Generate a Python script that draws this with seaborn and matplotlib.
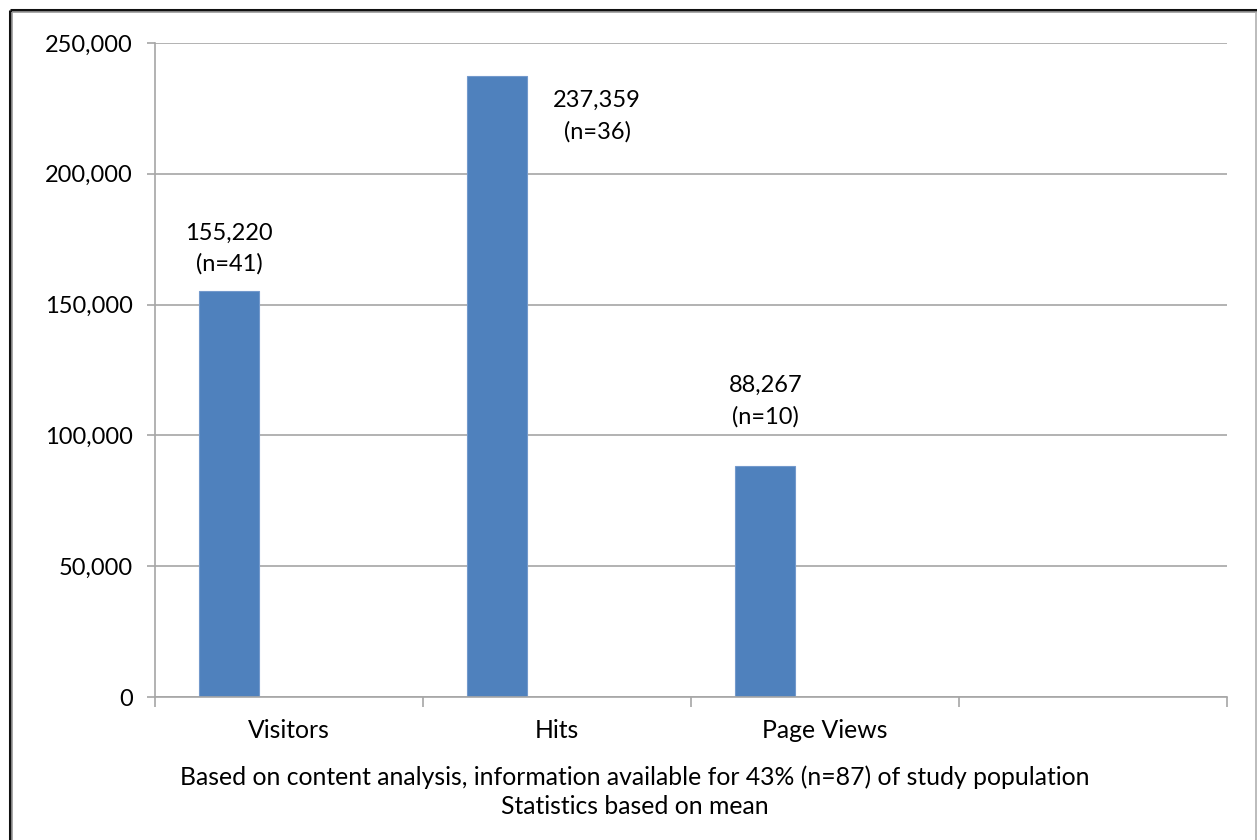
import matplotlib
matplotlib.use("Agg")
import matplotlib.pyplot as plt
from matplotlib.lines import Line2D
from matplotlib.ticker import FuncFormatter, FixedLocator
import numpy as np
import pandas as pd
import seaborn as sns

# Chart data
categories = ["Visitors", "Hits", "Page Views", ""]
values = [155220, 237359, 88267]
sample_sizes = [41, 36, 10]
caption_lines = [
    "Based on content analysis, information available for 43% (n=87) of study population",
    "Statistics based on mean",
]

sns.set_theme(style="white")
plt.rcParams["font.family"] = ["Lato", "DejaVu Sans"]

BAR_COLOR = "#4F81BD"
GRID_COLOR = "#A6A6A6"
TEXT_SIZE = 17.8
NUM_SIZE = 17

fig = plt.figure(figsize=(12.57, 8.40), dpi=100)
ax = fig.add_axes([155 / 1257, 1 - 697 / 840, (1227 - 155) / 1257, (697 - 43) / 840])

# Each bar sits in the left half of its category slot
bar_width = 0.223
positions = np.arange(len(values)) - bar_width
df = pd.DataFrame({"pos": positions, "value": values})
sns.barplot(data=df, x="pos", y="value", native_scale=True, width=bar_width,
            color=BAR_COLOR, saturation=1, edgecolor="#7399CC", linewidth=0.8,
            ax=ax, zorder=3)

ax.set_xlim(-0.5, len(categories) - 0.5)
ax.set_ylim(0, 250000)
ax.set_xlabel("")
ax.set_ylabel("")

# Y axis: gridlines every 50,000
ax.set_yticks(np.arange(0, 250001, 50000))
ax.yaxis.set_major_formatter(FuncFormatter(lambda v, _: f"{int(v):,}"))
ax.grid(axis="y", color=GRID_COLOR, linewidth=1.2, zorder=0)
ax.tick_params(axis="y", which="major", left=True, length=6, width=1.2,
               color=GRID_COLOR, labelsize=NUM_SIZE, pad=10, labelcolor="black")

# X axis: tick marks on slot boundaries, labels in slot centres
ax.xaxis.set_major_locator(FixedLocator(np.arange(-0.5, len(categories), 1.0)))
ax.xaxis.set_major_formatter(FuncFormatter(lambda v, _: ""))
ax.xaxis.set_minor_locator(FixedLocator(np.arange(len(categories))))
ax.set_xticklabels(categories, minor=True)
ax.tick_params(axis="x", which="major", bottom=True, length=7, width=1.2,
               color=GRID_COLOR)
ax.tick_params(axis="x", which="minor", bottom=True, length=0,
               labelsize=TEXT_SIZE, pad=16, labelcolor="black")

for side in ["top", "right"]:
    ax.spines[side].set_visible(False)
for side in ["left", "bottom"]:
    ax.spines[side].set_color(GRID_COLOR)
    ax.spines[side].set_linewidth(1.2)
    ax.spines[side].set_zorder(4)

# Value labels with sample sizes
label_offsets = [(0, 42), (100, -40), (0, 65)]
for pos, val, n, (dx, dy) in zip(positions, values, sample_sizes, label_offsets):
    ax.annotate(f"{val:,}\n(n={n})", xy=(pos, val), xytext=(dx, dy),
                textcoords="offset pixels", ha="center", va="center",
                fontsize=NUM_SIZE, linespacing=1.55, color="black", zorder=5)

# Caption under the axis
fig.text(635 / 1257, 1 - 777 / 840, caption_lines[0], ha="center", va="center",
         fontsize=TEXT_SIZE, color="black")
fig.text(635 / 1257, 1 - 806 / 840, caption_lines[1], ha="center", va="center",
         fontsize=TEXT_SIZE, color="black")

# Outer frame: dark top/left edge with a soft shadow, light right edge
W, H = 1257, 840
def px_line(x0, y0, x1, y1, color, lw):
    fig.add_artist(Line2D([x0 / W, x1 / W], [1 - y0 / H, 1 - y1 / H],
                          transform=fig.transFigure, color=color, linewidth=lw,
                          solid_capstyle="butt"))

px_line(9.5, 9.5, 9.5, H, "#111111", 2.2)
px_line(9.5, 9.5, W, 9.5, "#111111", 2.2)
px_line(11.8, 11.8, 11.8, H, "#9a9a9a", 1.2)
px_line(11.8, 11.8, W, 11.8, "#9a9a9a", 1.2)
px_line(1255.5, 12, 1255.5, H, "#b0b0b0", 1.2)

fig.savefig("out.png", dpi=100)
